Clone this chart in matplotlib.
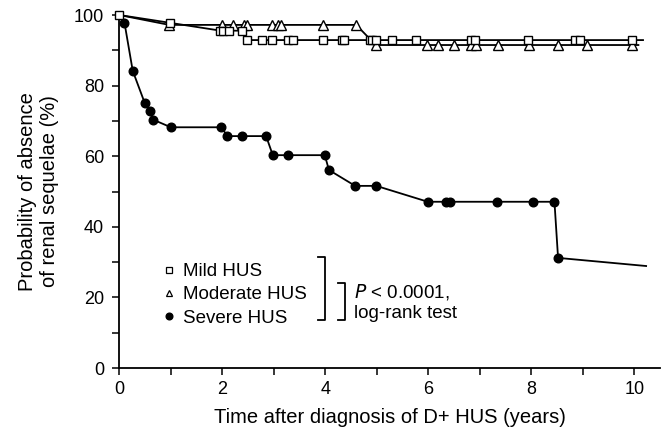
import matplotlib
matplotlib.use("Agg")
import matplotlib.pyplot as plt
from matplotlib.lines import Line2D
from matplotlib.ticker import MultipleLocator

plt.rcParams['font.family'] = ['Liberation Sans', 'DejaVu Sans']

# ---- data ----
mild_t = [0, 0.98, 1.95, 2.01, 2.12, 2.39, 2.47, 2.77, 2.96, 3.28, 3.38, 3.96,
          4.32, 4.36, 4.87, 4.90, 4.98, 5.29, 5.76, 6.83, 6.91, 7.94, 8.85, 8.95, 9.95]
mild_s = [100, 97.8, 95.6, 95.6, 95.6, 95.6, 92.9, 92.9, 92.9, 92.9, 92.9, 92.9,
          92.9, 92.9, 92.9, 92.9, 92.9, 92.9, 92.9, 92.9, 92.9, 92.9, 92.9, 92.9, 92.9]
mild_end = (10.17, 92.9)

mod_t = [0.97, 1.99, 2.20, 2.43, 2.47, 2.96, 3.09, 3.14, 3.96, 4.60, 4.98,
         5.97, 6.18, 6.49, 6.83, 6.93, 7.36, 7.96, 8.52, 9.09, 9.95]
mod_s = [97.2, 97.2, 97.2, 97.2, 97.2, 97.2, 97.2, 97.2, 97.2, 97.2, 91.5,
         91.5, 91.5, 91.5, 91.5, 91.5, 91.5, 91.5, 91.5, 91.5, 91.5]
mod_start = (0, 100)
mod_end = (10.08, 91.5)

sev_t = [0.10, 0.26, 0.49, 0.59, 0.65, 1.00, 1.98, 2.10, 2.38, 2.85, 2.98, 3.27,
         3.99, 4.07, 4.58, 4.99, 5.99, 6.35, 6.43, 7.33, 8.03, 8.45, 8.52]
sev_s = [97.8, 84.2, 75.2, 72.9, 70.4, 68.2, 68.2, 65.7, 65.7, 65.7, 60.3, 60.3,
         60.3, 56.1, 51.6, 51.6, 47.1, 47.1, 47.1, 47.1, 47.1, 47.1, 31.2]
sev_start = (0, 100)
sev_end = (10.23, 28.9)

labels = ["Mild HUS", "Moderate HUS", "Severe HUS"]

fig = plt.figure(figsize=(6.63, 4.34), dpi=100)
ax = fig.add_axes([0.18, 0.152, 0.8155, 0.8134])

lw = 1.3
# line paths
ax.plot([sev_start[0]] + sev_t + [sev_end[0]], [sev_start[1]] + sev_s + [sev_end[1]],
        color='black', lw=lw, zorder=2, clip_on=False)
ax.plot([mod_start[0]] + mod_t + [mod_end[0]], [mod_start[1]] + mod_s + [mod_end[1]],
        color='black', lw=lw, zorder=2, clip_on=False)
ax.plot(mild_t + [mild_end[0]], mild_s + [mild_end[1]],
        color='black', lw=lw, zorder=2, clip_on=False)
# markers
ax.plot(sev_t, sev_s, ls='none', marker='o', ms=6.2, mfc='black', mec='black',
        zorder=3, clip_on=False)
ax.plot(mod_t, mod_s, ls='none', marker='^', ms=6.5, mfc='white', mec='black', mew=1.0,
        zorder=4, clip_on=False)
ax.plot(mild_t, mild_s, ls='none', marker='s', ms=5.8, mfc='white', mec='black', mew=1.0,
        zorder=5, clip_on=False)

ax.set_xlim(0, 10.5)
ax.set_ylim(0, 100)
ax.spines['top'].set_visible(False)
ax.spines['right'].set_visible(False)
for s in ('left', 'bottom'):
    ax.spines[s].set_linewidth(1.3)
ax.xaxis.set_major_locator(MultipleLocator(2))
ax.xaxis.set_minor_locator(MultipleLocator(1))
ax.yaxis.set_major_locator(MultipleLocator(20))
ax.yaxis.set_minor_locator(MultipleLocator(10))
ax.tick_params(which='both', direction='out', length=5, width=1.1, labelsize=13)
ax.tick_params(axis='x', which='major', pad=4.5)
ax.tick_params(axis='y', which='major', pad=6)

ax.set_xlabel("Time after diagnosis of D+ HUS (years)", fontsize=14.5, labelpad=7)
ax.set_ylabel("Probability of absence\nof renal sequelae (%)", fontsize=14.5,
              labelpad=11, linespacing=1.2)

# legend
handles = [Line2D([], [], ls='none', marker='s', ms=4.8, mfc='white', mec='black', mew=0.9),
           Line2D([], [], ls='none', marker='^', ms=4.8, mfc='white', mec='black', mew=0.9),
           Line2D([], [], ls='none', marker='o', ms=4.8, mfc='black', mec='black')]
leg = ax.legend(handles, labels, loc='upper left', bbox_to_anchor=(0.082, 0.297),
                frameon=False, fontsize=13.5, handlelength=0.6, handletextpad=0.45,
                labelspacing=0.32, borderpad=0, borderaxespad=0)

# brackets
ax.plot([3.86, 4.0, 4.0, 3.86], [31.4, 31.4, 13.6, 13.6], color='black', lw=1.3)
ax.plot([4.24, 4.38, 4.38, 4.24], [24.1, 24.1, 13.6, 13.6], color='black', lw=1.3)
ax.text(4.55, 21.5, r"$\it{P}$" + " < 0.0001,", fontsize=13.5, va='center', ha='left')
ax.text(4.55, 15.5, "log-rank test", fontsize=13.5, va='center', ha='left')

fig.savefig("out.png", dpi=100)
